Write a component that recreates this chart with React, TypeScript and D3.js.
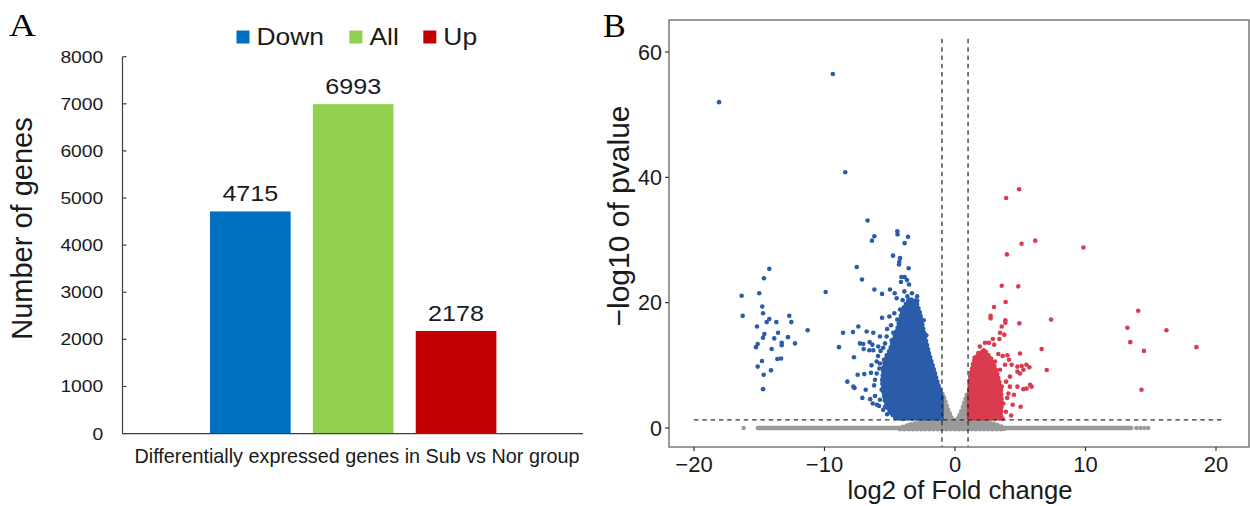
import React from 'react';
import * as d3 from 'd3';

// ── Panel A: bar chart of DEG counts ─────────────────────────────────────────
const categories = ['Down', 'All', 'Up'];
const geneCounts = [4715, 6993, 2178];
const barColors = ['#0070C0', '#92D050', '#C00000'];
const countTicks = [0, 1000, 2000, 3000, 4000, 5000, 6000, 7000, 8000];
const groupLabel = 'Differentially expressed genes in Sub vs Nor group';

// ── Panel B: volcano plot ────────────────────────────────────────────────────
const fcTicks = [-20, -10, 0, 10, 20];
const pTicks = [0, 20, 40, 60];
const fcCutoff = 1;
const pCutoff = 1.3;

// dense cores of the point clouds (outline of the solid mass of dots)
const downCloud: [number, number][] = [
  [-1.0, 1.5], [-1.0, 5.0], [-1.5, 8.5], [-2.0, 12.0], [-2.4, 15.5], [-2.7, 18.5],
  [-3.0, 20.3], [-3.5, 20.6], [-4.0, 19.0], [-4.4, 16.0], [-4.9, 13.0], [-5.4, 10.5],
  [-5.6, 7.5], [-5.4, 4.5], [-5.0, 2.5], [-4.5, 1.5],
];
const upCloud: [number, number][] = [
  [1.05, 1.5], [1.05, 5.0], [1.15, 8.0], [1.4, 10.5], [1.8, 12.0], [2.3, 12.3],
  [2.8, 11.0], [3.2, 9.0], [3.5, 6.5], [3.6, 4.0], [3.5, 1.5],
];
const nsCloud: [number, number][] = [
  [-4.3, 0.0], [-3.2, 0.7], [-2.3, 1.1], [-1.1, 1.35], [-1.08, 5.6], [-0.9, 5.3],
  [-0.55, 3.0], [-0.25, 1.6], [0, 1.15], [0.25, 1.6], [0.55, 3.0], [0.9, 5.3],
  [1.08, 5.6], [1.1, 1.35], [2.2, 1.1], [3.0, 0.7], [3.8, 0.0], [3.8, -0.2], [-4.3, -0.2],
];
// non-significant genes with p = 1 form a band along y = 0
const nsBand: [number, number] = [-15.1, 13.5];
const nsPoints: [number, number][] = [
  [-16.2, 0], [13.9, 0], [14.2, 0], [14.5, 0], [14.8, 0],
  [-2.6, 0.9], [2.5, 0.9], [-3.5, 0.5], [3.2, 0.5], [2.1, 1.0], [-2.0, 1.1],
];

const downGenes: [number, number][] = [
  // far-left group
  [-16.35, 21.1], [-16.27, 17.9], [-14.23, 25.4], [-14.64, 23.9], [-15.0, 21.5], [-14.77, 19.4],
  [-14.71, 18.3], [-14.23, 17.4], [-14.43, 16.9], [-13.69, 16.9], [-12.7, 17.9], [-12.54, 16.9],
  [-15.17, 16.2], [-14.61, 15.0], [-14.71, 14.4], [-13.56, 15.2], [-13.85, 14.3], [-12.8, 14.5],
  [-13.28, 13.6], [-13.28, 13.2], [-12.26, 13.5], [-15.25, 12.9], [-15.12, 13.4], [-14.05, 12.6],
  [-14.79, 10.7], [-13.61, 11.0], [-13.33, 11.1], [-15.12, 9.8], [-14.1, 9.2], [-14.66, 8.5],
  [-14.71, 6.2], [-11.29, 15.6], [-9.91, 21.7],
  // high outliers
  [-18.08, 52.0], [-9.36, 56.5], [-8.41, 40.8], [-6.7, 33.1], [-6.18, 30.6], [-6.36, 29.9],
  [-4.42, 31.4], [-4.4, 30.9], [-3.6, 30.5], [-3.86, 29.5], [-4.75, 27.5], [-4.21, 27.1],
  [-4.27, 26.5], [-4.29, 26.1], [-3.55, 25.5], [-7.53, 25.7], [-7.13, 23.7], [-6.18, 22.1],
  [-5.59, 21.4], [-4.98, 22.1], [-4.11, 24.1], [-3.86, 24.1], [-3.68, 23.6], [-3.52, 22.9],
  [-4.14, 23.3], [-3.88, 21.8], [-4.62, 21.5],
  // middle scatter
  [-7.41, 16.2], [-8.58, 15.2], [-7.82, 15.3], [-6.77, 15.4], [-8.89, 12.9], [-7.74, 11.3],
  [-7.28, 13.5], [-7.03, 13.4], [-7.0, 12.6], [-6.54, 13.7], [-6.33, 13.3], [-6.56, 12.4],
  // lower-left fringe
  [-5.75, 10.3], [-5.54, 9.5], [-6.0, 8.7], [-6.13, 7.7], [-5.36, 7.1], [-5.62, 6.1],
  [-5.24, 5.3], [-5.75, 4.5], [-6.13, 5.1], [-5.98, 3.7], [-5.82, 3.5], [-5.36, 3.4],
  [-4.98, 2.6], [-4.73, 3.4], [-5.11, 4.2], [-6.44, 8.8], [-6.95, 8.6], [-6.84, 6.1],
  [-7.1, 4.8], [-7.46, 8.5], [-7.79, 6.6], [-7.7, 6.4], [-8.25, 7.4], [-4.85, 11.4],
  [-5.24, 11.6], [-5.44, 10.9], [-4.6, 1.8], [-5.2, 2.2], [-4.0, 1.5], [-5.5, 2.9],
  [-6.3, 3.9], [-6.5, 4.6], [-5.8, 9.5], [-5.9, 11.5], [-5.7, 12.3], [-6.0, 10.6],
  [-5.5, 12.8], [-6.2, 6.8], [-6.4, 10.0],
  // upper part of the cloud
  [-4.47, 20.7], [-4.01, 20.4], [-3.65, 21.0], [-3.19, 20.2], [-2.89, 20.3], [-3.7, 19.4],
  [-3.19, 19.1], [-3.75, 19.4], [-4.21, 18.9], [-4.65, 18.3], [-5.03, 17.8], [-5.59, 17.6],
  [-4.42, 17.3], [-3.96, 17.2], [-3.45, 17.8], [-2.81, 17.8], [-2.68, 16.7], [-2.94, 15.6],
  [-3.7, 16.2], [-4.21, 15.6], [-4.73, 15.2], [-5.24, 14.6], [-5.75, 14.6], [-6.26, 15.2],
  [-4.21, 14.6], [-4.85, 14.0], [-5.36, 13.5], [-5.88, 13.0], [-6.26, 12.4], [-4.73, 13.0],
  [-3.58, 14.6], [-3.19, 13.5], [-2.55, 14.6], [-2.68, 13.0], [-3.3, 21.5], [-2.9, 21.0],
  [-4.9, 16.4], [-5.2, 15.8], [-2.4, 17.2], [-2.2, 14.8],
];

const upGenes: [number, number][] = [
  [3.92, 36.7], [4.91, 38.1], [5.1, 29.4], [6.15, 29.9], [9.84, 28.8], [3.98, 27.7],
  [3.58, 22.7], [4.85, 22.6], [3.88, 20.1], [2.99, 19.3], [2.73, 17.9], [2.73, 17.5],
  [3.86, 17.2], [3.86, 16.8], [4.93, 16.7], [7.36, 17.3], [3.58, 16.2], [3.45, 15.2],
  [3.78, 14.9], [2.9, 14.2], [3.4, 14.2], [2.3, 13.6], [2.6, 13.6], [3.0, 13.3],
  [6.64, 12.6], [4.98, 11.9], [7.03, 9.25], [5.47, 10.1], [5.7, 9.7], [4.01, 11.6],
  [3.65, 11.5], [3.32, 11.8], [4.14, 10.9], [3.83, 10.1], [4.34, 10.1], [4.78, 9.8],
  [5.11, 9.9], [5.24, 9.3], [4.78, 9.0], [4.98, 8.7], [5.75, 6.9], [5.49, 6.3],
  [5.24, 6.2], [5.87, 6.6], [4.21, 6.6], [4.78, 6.6], [4.09, 5.5], [4.52, 5.3],
  [4.42, 3.7], [5.03, 3.4], [3.45, 2.4], [3.65, 1.5], [2.68, 11.1], [3.07, 10.6],
  [3.45, 9.3], [3.19, 8.2], [2.94, 7.1], [3.58, 6.6], [3.91, 7.4], [4.21, 8.2],
  [3.32, 5.0], [3.7, 3.9], [2.94, 3.9], [2.2, 12.4], [1.8, 11.6], [1.9, 13.0],
  [4.0, 4.8], [3.9, 2.6], [4.3, 2.0], [1.5, 11.2],
  // far-right group
  [14.04, 18.7], [13.21, 16.0], [16.2, 15.6], [13.43, 13.7], [14.48, 12.3], [18.5, 12.9],
  [14.29, 6.1],
];

const FONT = '"Liberation Sans", Arial, sans-serif';
const SERIF = '"Liberation Serif", "Times New Roman", serif';
const BLUE = '#2a5caa';
const RED = '#d93b4f';
const GREY = '#9a9a9a';

function Stretch({ x, y, sx = 1.17, size, anchor = 'start', children, fill = '#1a1a1a' }: any) {
  return (
    <text transform={`translate(${x},${y}) scale(${sx},1)`} fontSize={size}
      fontFamily={FONT} textAnchor={anchor} fill={fill}>{children}</text>
  );
}

function BarPanel() {
  const y = d3.scaleLinear().domain([0, 8000]).range([433.6, 56.7]);
  const x = d3.scaleBand<string>().domain(categories).range([198.9, 507.5])
    .paddingInner(0.216).paddingOuter(0.108);
  const axisX = 122.5;
  const legendX = [236.5, 349.4, 423.3];

  return (
    <g>
      <text x={9} y={36} fontFamily={SERIF} fontSize={31}
        transform="translate(9,0) scale(1.2,1) translate(-9,0)">A</text>

      {legendX.map((lx, i) => (
        <g key={categories[i]}>
          <rect x={lx} y={30.5} width={13} height={13} fill={barColors[i]} />
          <Stretch x={lx + 20} y={45} size={23} sx={1.15}>{categories[i]}</Stretch>
        </g>
      ))}

      {categories.map((c, i) => (
        <g key={c}>
          <rect x={x(c)} y={y(geneCounts[i])} width={x.bandwidth()}
            height={y(0) - y(geneCounts[i])} fill={barColors[i]} />
          <Stretch x={x(c)! + x.bandwidth() / 2} y={y(geneCounts[i]) - 10} size={21.5}
            anchor="middle">{geneCounts[i]}</Stretch>
        </g>
      ))}

      <line x1={axisX} x2={axisX} y1={y(8000)} y2={y(0)} stroke="#404040" strokeWidth={1.2} />
      <line x1={axisX} x2={583} y1={y(0)} y2={y(0)} stroke="#404040" strokeWidth={1.2} />
      {countTicks.map(t => (
        <g key={t}>
          <line x1={axisX} x2={axisX + 4} y1={y(t)} y2={y(t)} stroke="#404040" strokeWidth={1.2} />
          <Stretch x={103.3} y={y(t) + 6} size={16.5} anchor="end">{t}</Stretch>
        </g>
      ))}

      <text x={357} y={463} fontFamily={FONT} fontSize={19.8} textAnchor="middle"
        fill="#1a1a1a">{groupLabel}</text>
      <text transform="translate(31.5,228.5) rotate(-90)" fontFamily={FONT} fontSize={29}
        textAnchor="middle" fill="#1a1a1a">Number of genes</text>
    </g>
  );
}

function VolcanoPanel() {
  const x = d3.scaleLinear().domain([-20, 20]).range([694, 1216]);
  const y = d3.scaleLinear().domain([0, 60]).range([428, 52]);
  const box = { left: 669, right: 1249, top: 20, bottom: 447 };
  const area = d3.line<[number, number]>().x(d => x(d[0])).y(d => y(d[1]))
    .curve(d3.curveLinearClosed);

  // filled core plus a dotted rim so the edge reads as scattered dots
  const cloud = (pts: [number, number][], color: string) => (
    <g>
      <path d={area(pts)!} fill={color} stroke={color} strokeWidth={2.5} strokeLinejoin="round" />
      <path d={area(pts)!} fill="none" stroke={color} strokeWidth={4.6} strokeLinecap="round"
        strokeDasharray="0,4.2" />
    </g>
  );

  return (
    <g>
      <text x={603} y={37} fontFamily={SERIF} fontSize={34}>B</text>

      {/* non-significant */}
      <line x1={x(nsBand[0])} x2={x(nsBand[1])} y1={y(0)} y2={y(0)} stroke={GREY}
        strokeWidth={4.6} strokeLinecap="round" />
      {cloud(nsCloud, GREY)}
      {nsPoints.map((d, i) => (
        <circle key={i} cx={x(d[0])} cy={y(d[1])} r={2.2} fill={GREY} />
      ))}

      {/* down-regulated */}
      {cloud(downCloud, BLUE)}
      {downGenes.map((d, i) => (
        <circle key={i} cx={x(d[0])} cy={y(d[1])} r={2.3} fill={BLUE} />
      ))}

      {/* up-regulated */}
      {cloud(upCloud, RED)}
      {upGenes.map((d, i) => (
        <circle key={i} cx={x(d[0])} cy={y(d[1])} r={2.3} fill={RED} />
      ))}

      {/* thresholds */}
      {[-fcCutoff, fcCutoff].map(v => (
        <line key={v} x1={x(v)} x2={x(v)} y1={y(62.1)} y2={box.bottom} stroke="#222"
          strokeWidth={1.2} strokeDasharray="4.5,3.8" />
      ))}
      <line x1={x(-20)} x2={x(20.7)} y1={y(pCutoff)} y2={y(pCutoff)} stroke="#333"
        strokeWidth={1.3} strokeDasharray="4.5,3.8" />

      <rect x={box.left} y={box.top} width={box.right - box.left} height={box.bottom - box.top}
        fill="none" stroke="#7a7a7a" strokeWidth={1.5} />

      {pTicks.map(t => (
        <g key={t}>
          <line x1={box.left - 4} x2={box.left} y1={y(t)} y2={y(t)} stroke="#333" strokeWidth={1.2} />
          <text x={662} y={y(t) + 7.5} fontFamily={FONT} fontSize={21.5} textAnchor="end"
            fill="#1a1a1a">{t}</text>
        </g>
      ))}
      {fcTicks.map(t => (
        <g key={t}>
          <line x1={x(t)} x2={x(t)} y1={box.bottom} y2={box.bottom + 4} stroke="#333" strokeWidth={1.2} />
          <text x={x(t)} y={471.5} fontFamily={FONT} fontSize={22} textAnchor="middle"
            fill="#1a1a1a">{t < 0 ? `\u2212${-t}` : t}</text>
        </g>
      ))}

      <text x={960} y={499} fontFamily={FONT} fontSize={25.6} textAnchor="middle"
        fill="#1a1a1a">log2 of Fold change</text>
      <text transform="translate(629,216) rotate(-90)" fontFamily={FONT} fontSize={30}
        textAnchor="middle" fill="#1a1a1a">{'\u2212log10 of pvalue'}</text>
    </g>
  );
}

export default function App() {
  return (
    <svg width={1250} height={506} viewBox="0 0 1250 506"
      style={{ position: 'absolute', left: 0, top: 0, background: '#fff', display: 'block' }}>
      <rect width={1250} height={506} fill="#fff" />
      <BarPanel />
      <VolcanoPanel />
    </svg>
  );
}
